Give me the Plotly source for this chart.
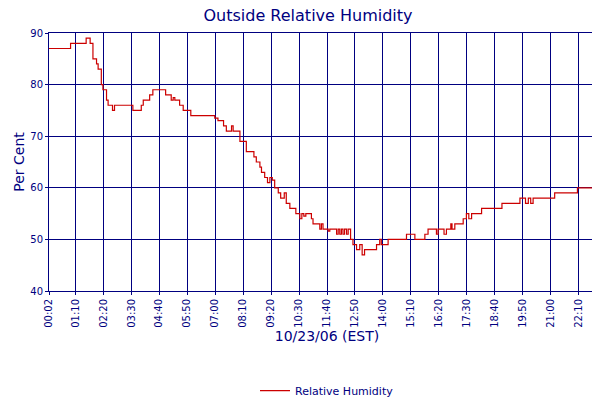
import plotly.graph_objects as go

minutes = [2,56,95,105,112,121,125,133,137,146,150,161,166,212,233,238,254,262,294,308,313,317,329,338,357,
           417,425,439,446,459,463,480,496,515,521,530,534,542,549,555,561,567,576,582,591,596,605,620,630,635,640,645,
           651,659,663,680,684,688,701,705,722,726,730,734,738,742,747,751,757,763,772,780,786,792,822,830,834,851,
           897,918,943,951,972,976,991,997,1008,1011,1018,1039,1047,1053,1060,1085,1136,1181,1195,1202,1208,1214,
           1268,1325,1364,1393]
humidity = [87,88,89,88,85,84,83,80,79,77,76,75,76,75,76,77,78,79,78,77,77.5,77,76,75,74,
            73.5,73,72,71,72,71,69,67,66,65,64,63,62,61,62,61.5,60,59,58,59,57,56,55,54,55,54.5,55,
            55,54,53,52,53,52,51.6,52,51,52,51,52,51,52,51,52,50,49,48,49,47,48,49,50,49,50,
            51,50,51,52,51,52,51,52,53,52,53,54,55,54,55,56,57,58,57,58,57,58,
            59,60,61,61]
tick_labels = ["00:02","01:10","02:20","03:30","04:40","05:50","07:00","08:10","09:20","10:30","11:40",
               "12:50","14:00","15:10","16:20","17:30","18:40","19:50","21:00","22:10","23:15"]
tick_minutes = [2,68,138,208,278,348,418,488,558,628,698,768,838,908,978,1048,1118,1188,1258,1328,1393]

navy = "#000080"
fig = go.Figure(go.Scatter(x=minutes, y=humidity, mode="lines", line=dict(color="#cc0000", width=1.2, shape="hv"),
                           name="Relative Humidity"))
fig.update_layout(
    width=600, height=400, paper_bgcolor="white", plot_bgcolor="white",
    margin=dict(l=41, r=3, t=25, b=82),
    font=dict(family="DejaVu Sans", color=navy, size=10),
    title=dict(text="Outside Relative Humidity", x=0.5, xanchor="center", y=0.995, yanchor="top",
               font=dict(size=16, color=navy)),
    showlegend=True,
    legend=dict(orientation="h", x=0.5, xanchor="center", y=-0.33, yanchor="top", font=dict(size=11, color=navy)),
)
fig.update_xaxes(range=[2, 1394], tickvals=tick_minutes, ticktext=tick_labels, tickangle=-90, automargin=False,
                 showgrid=True, gridcolor=navy, gridwidth=1, showline=True, linecolor=navy, mirror=True,
                 ticks="outside", tickcolor=navy, ticklen=3, zeroline=False,
                 title=dict(text="10/23/06 (EST)", font=dict(size=14, color=navy), standoff=4))
fig.update_yaxes(range=[40, 90], dtick=10, showgrid=True, gridcolor=navy, gridwidth=1, showline=True, automargin=False,
                 linecolor=navy, mirror=True, zeroline=False, ticks="outside", tickcolor=navy, ticklen=3,
                 title=dict(text="Per Cent", font=dict(size=14, color=navy), standoff=2))
fig.write_html("out.html")
